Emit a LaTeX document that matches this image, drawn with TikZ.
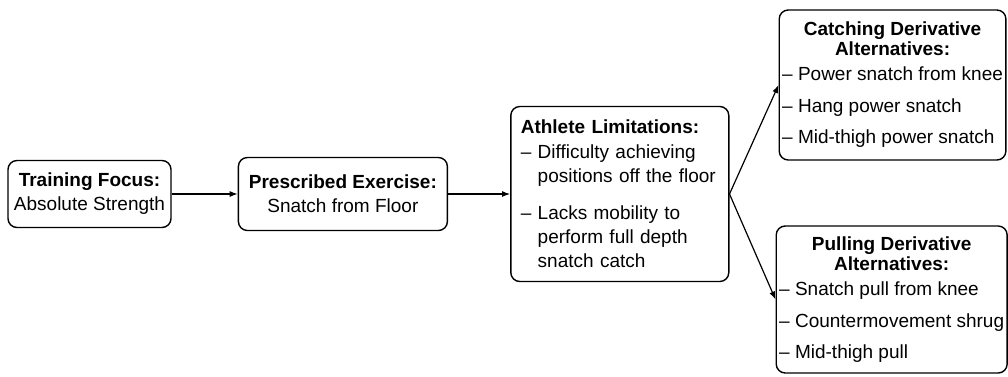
\documentclass[tikz,border=0pt]{standalone}
\usepackage{fontspec}
\setmainfont{Liberation Sans}
\usetikzlibrary{arrows.meta,positioning}
\tikzset{
  liftpicture/.style={x=1pt, y=-1pt, node distance=66pt},
  liftbox/.style={draw, line width=1.4pt, rounded corners=9pt, align=center, font=\fontsize{19}{24}\selectfont, inner sep=4pt},
  liftlist/.style={liftbox, align=left, text width=198pt, inner xsep=10pt},
  liftside/.style={liftbox, anchor=west, inner xsep=3pt},
  liftarrow/.style={-{Latex[length=8pt,width=6pt]}, line width=1.2pt}
}
\newcommand\liftcenter[1]{\multicolumn{1}{@{}c@{}}{\textbf{#1}}}

\begin{document}
\begin{tikzpicture}[liftpicture]
\useasboundingbox (0,0) rectangle (1008,376);
\node[liftbox, minimum width=163pt, minimum height=67pt] (focus) at (89.5,194) {\textbf{Training Focus:}\\Absolute Strength};
\node[liftbox, minimum width=209pt, minimum height=73pt, right=66pt of focus] (exercise) {\textbf{Prescribed Exercise:}\\Snatch from Floor};
\node[liftlist, minimum height=175pt, right=62pt of exercise] (limits) {\textbf{Athlete Limitations:}\\[1pt]
  – Difficulty achieving\\\phantom{– }positions off the floor\\[13pt]
  – Lacks mobility to\\\phantom{– }perform full depth\\\phantom{– }snatch catch};
\node[liftside, minimum height=150pt] (catching) at ([xshift=49pt, yshift=109pt]limits.east) {\begin{tabular}{@{}l@{}}
  \liftcenter{Catching Derivative}\\[-4pt]
  \liftcenter{Alternatives:}\\[1pt]
  – Power snatch from knee\\[8pt]
  – Hang power snatch\\[7pt]
  – Mid-thigh power snatch
\end{tabular}};
\node[liftside, minimum height=147pt] (pulling) at ([xshift=46pt, yshift=-105.5pt]limits.east) {\begin{tabular}{@{}l@{}}
  \liftcenter{Pulling Derivative}\\[-4pt]
  \liftcenter{Alternatives:}\\[1pt]
  – Snatch pull from knee\\[8pt]
  – Countermovement shrug\\[7pt]
  – Mid-thigh pull
\end{tabular}};
\draw[liftarrow] (focus) -- (exercise);
\draw[liftarrow] (exercise) -- (limits);
\draw[liftarrow] (limits.east) -- (catching.west);
\draw[liftarrow] (limits.east) -- (pulling.west);
\end{tikzpicture}
\end{document}
